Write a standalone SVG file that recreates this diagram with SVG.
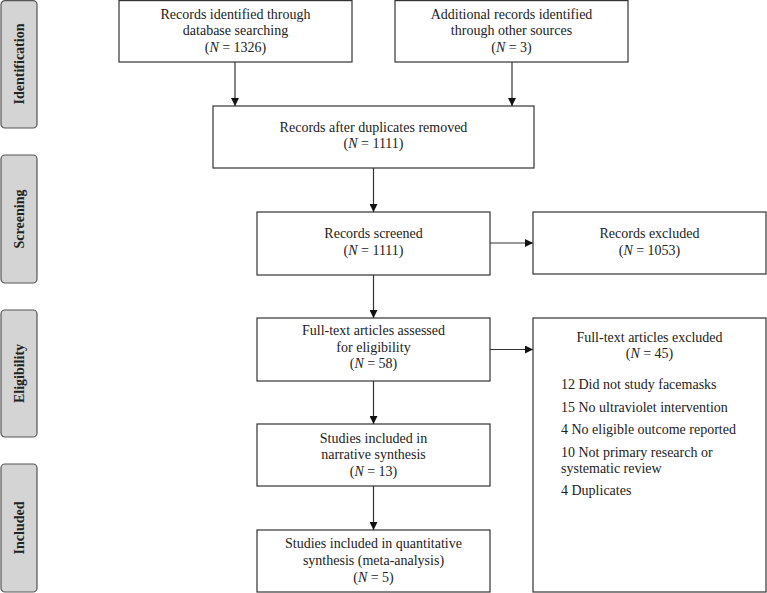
<svg xmlns="http://www.w3.org/2000/svg" width="767" height="593" viewBox="0 0 767 593">
<style>
.box{fill:#fff;stroke:#333;stroke-width:1.2}
.tab{fill:#d4d4d4;stroke:#555;stroke-width:1.2}
.t{font-family:"Liberation Serif","Times New Roman",serif;font-size:14px;fill:#222;text-anchor:middle}
.l{font-family:"Liberation Serif","Times New Roman",serif;font-size:14px;fill:#222}
.side{font-family:"Liberation Serif","Times New Roman",serif;font-size:14px;font-weight:bold;fill:#222;text-anchor:middle}
.c{stroke:#333;stroke-width:1.2;fill:none;marker-end:url(#ah)}
.it{font-style:italic}
</style>
<defs>
<marker id="ah" viewBox="0 0 10 10" refX="10" refY="5" markerWidth="8" markerHeight="8" markerUnits="userSpaceOnUse" orient="auto">
<path d="M0,0 L10,5 L0,10 Z" fill="#111"/>
</marker>
</defs>
<g id="tab-identification"><rect class="tab" x="1" y="0.6" width="36" height="127.4" rx="4"/><text class="side" transform="translate(23.5,64) rotate(-90)">Identification</text></g>
<g id="tab-screening"><rect class="tab" x="1" y="155" width="36" height="128" rx="4"/><text class="side" transform="translate(23.5,219) rotate(-90)">Screening</text></g>
<g id="tab-eligibility"><rect class="tab" x="1" y="310" width="36" height="127" rx="4"/><text class="side" transform="translate(23.5,373.5) rotate(-90)">Eligibility</text></g>
<g id="tab-included"><rect class="tab" x="1" y="464" width="36" height="128" rx="4"/><text class="side" transform="translate(23.5,528) rotate(-90)">Included</text></g>

<g id="n-db"><rect class="box" x="119" y="0.6" width="233" height="61.4"/>
<text class="t" x="235.5" y="18.5">Records identified through</text>
<text class="t" x="235.5" y="35">database searching</text>
<text class="t" x="235.5" y="51.7">(<tspan class="it">N</tspan> = 1326)</text></g>

<g id="n-other"><rect class="box" x="395" y="0.6" width="233" height="61.4"/>
<text class="t" x="511.5" y="18.5">Additional records identified</text>
<text class="t" x="511.5" y="35">through other sources</text>
<text class="t" x="511.5" y="51.7">(<tspan class="it">N</tspan> = 3)</text></g>

<g id="n-dup"><rect class="box" x="213" y="106" width="321" height="62"/>
<text class="t" x="373.5" y="131.7">Records after duplicates removed</text>
<text class="t" x="373.5" y="148.3">(<tspan class="it">N</tspan> = 1111)</text></g>

<g id="n-screened"><rect class="box" x="257" y="212" width="233" height="63"/>
<text class="t" x="373.5" y="238.3">Records screened</text>
<text class="t" x="373.5" y="255">(<tspan class="it">N</tspan> = 1111)</text></g>

<g id="n-rexcl"><rect class="box" x="533" y="212" width="233" height="62"/>
<text class="t" x="649.5" y="238.3">Records excluded</text>
<text class="t" x="649.5" y="255">(<tspan class="it">N</tspan> = 1053)</text></g>

<g id="n-fulltext"><rect class="box" x="257" y="318" width="233" height="63"/>
<text class="t" x="373.5" y="335">Full-text articles assessed</text>
<text class="t" x="373.5" y="351.7">for eligibility</text>
<text class="t" x="373.5" y="368.3">(<tspan class="it">N</tspan> = 58)</text></g>

<g id="n-ftexcl"><rect class="box" x="533" y="318" width="233" height="274"/>
<text class="t" x="649.5" y="341.7">Full-text articles excluded</text>
<text class="t" x="649.5" y="358.3">(<tspan class="it">N</tspan> = 45)</text>
<text class="l" x="561" y="389">12 Did not study facemasks</text>
<text class="l" x="561" y="411.7">15 No ultraviolet intervention</text>
<text class="l" x="561" y="434">4 No eligible outcome reported</text>
<text class="l" x="561" y="456.7">10 Not primary research or</text>
<text class="l" x="561" y="473">systematic review</text>
<text class="l" x="561" y="495">4 Duplicates</text></g>

<g id="n-narrative"><rect class="box" x="257" y="424" width="233" height="62"/>
<text class="t" x="373.5" y="442.7">Studies included in</text>
<text class="t" x="373.5" y="459.3">narrative synthesis</text>
<text class="t" x="373.5" y="476">(<tspan class="it">N</tspan> = 13)</text></g>

<g id="n-quant"><rect class="box" x="257" y="530" width="233" height="62"/>
<text class="t" x="373.5" y="548.3">Studies included in quantitative</text>
<text class="t" x="373.5" y="565">synthesis (meta-analysis)</text>
<text class="t" x="373.5" y="581.7">(<tspan class="it">N</tspan> = 5)</text></g>

<g id="connectors">
<line class="c" x1="235" y1="62" x2="235" y2="106"/>
<line class="c" x1="512" y1="62" x2="512" y2="106"/>
<line class="c" x1="373.5" y1="168" x2="373.5" y2="212"/>
<line class="c" x1="490" y1="243" x2="533" y2="243"/>
<line class="c" x1="373.5" y1="275" x2="373.5" y2="318"/>
<line class="c" x1="490" y1="349.5" x2="533" y2="349.5"/>
<line class="c" x1="373.5" y1="381" x2="373.5" y2="424"/>
<line class="c" x1="373.5" y1="486" x2="373.5" y2="530"/>
</g>
</svg>
